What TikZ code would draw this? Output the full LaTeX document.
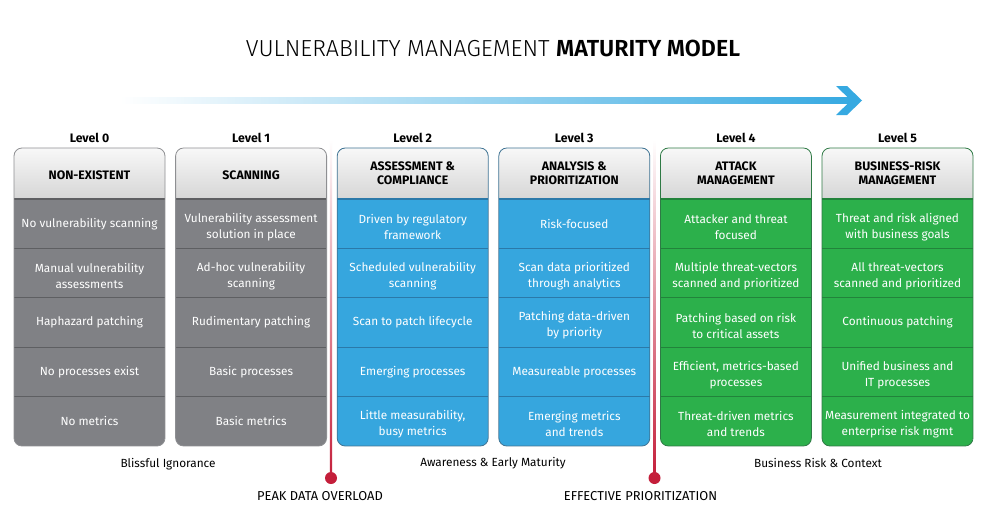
\documentclass[tikz,border=0pt]{standalone}
\usepackage{fontspec}
\setmainfont{Fira Sans}
\newfontfamily\lightfont{Fira Sans Light}
\usetikzlibrary{positioning}

\definecolor{cellgray}{HTML}{808185}
\definecolor{linegray}{HTML}{5E5F62}
\definecolor{bordgray}{HTML}{8E8F92}
\definecolor{cellblue}{HTML}{36A6DE}
\definecolor{lineblue}{HTML}{2B79A9}
\definecolor{bordblue}{HTML}{3F7393}
\definecolor{cellgreen}{HTML}{2CB04B}
\definecolor{linegreen}{HTML}{22833B}
\definecolor{bordgreen}{HTML}{2F7A45}
\definecolor{headtop}{HTML}{F8F8F8}
\definecolor{headbot}{HTML}{D6D6D6}
\definecolor{arrowblue}{HTML}{36A9E1}
\definecolor{markred}{HTML}{C41E3A}

% one column: left x, fill, border, row lines
\newcommand\levelbox[4]{%
  \begin{scope}
    \clip[rounded corners=8pt] (#1,148) rectangle ++(151,298);
    \shade[top color=headtop, bottom color=headbot] (#1,148) rectangle ++(151,51);
    \fill[#2] (#1,199) rectangle ++(151,247);
    \foreach \y in {199,248.4,297.8,347.2,396.6}
      \draw[#4, line width=1.3pt] (#1,\y) -- ++(151,0);
  \end{scope}
  \draw[#3, line width=0.8pt, rounded corners=8pt] (#1,148) rectangle ++(151,298);
}

\begin{document}
\begin{tikzpicture}[x=1pt, y=-1pt,
  cell/.style={text=white, align=center, font=\fontsize{11.8}{16}\selectfont},
  cell2/.style={cell, yshift=-3pt},
  head/.style={align=center, font=\fontsize{12.3}{14}\selectfont\bfseries},
  lvl/.style={font=\fontsize{12.3}{14}\selectfont\bfseries},
  band/.style={font=\fontsize{11.8}{14}\selectfont},
  marktext/.style={font=\fontsize{12.9}{14}\selectfont},
  markdot/.style={circle, fill=markred, minimum size=12pt, inner sep=0pt}]
\useasboundingbox[fill=white] (0,0) rectangle (985,531);

% title and arrow
\node (title) at (493,48.5) {\fontsize{23.2}{26}\selectfont\lightfont VULNERABILITY MANAGEMENT \bfseries MATURITY MODEL};
\shade[left color=white, right color=arrowblue] (120,97) rectangle (852,103);
\fill[arrowblue] (836,86) -- (847,86) -- (862,100.5) -- (847,115) -- (836,115) -- (851,100.5) -- cycle;

% red markers (drawn under the boxes)
\node[markdot] (peak) at (331,478) {};
\node[markdot] (effective) at (654.5,478) {};
\shade[top color=white, bottom color=markred] (329.8,140) rectangle (332.2,478);
\shade[top color=white, bottom color=markred] (653.3,140) rectangle (655.7,478);
\node[marktext, below=4pt of peak, xshift=-11pt] (peaktext) {PEAK DATA OVERLOAD};
\node[marktext, below=4pt of effective, xshift=-14pt] (efftext) {EFFECTIVE PRIORITIZATION};

% boxes
\levelbox{14}{cellgray}{bordgray}{linegray}
\levelbox{175.6}{cellgray}{bordgray}{linegray}
\levelbox{337.2}{cellblue}{bordblue}{lineblue}
\levelbox{498.8}{cellblue}{bordblue}{lineblue}
\levelbox{660.4}{cellgreen}{bordgreen}{linegreen}
\levelbox{822}{cellgreen}{bordgreen}{linegreen}

% level 0
\node[lvl] (lvl0) at (89.5,138) {Level 0};
\node[head] (head0) at (89.5,175.5) {NON-EXISTENT};
\node[cell] (c0a) at (89.5,223.7) {No vulnerability scanning};
\node[cell2] (c0b) at (89.5,273.1) {Manual vulnerability\\assessments};
\node[cell] (c0c) at (89.5,322.5) {Haphazard patching};
\node[cell] (c0d) at (89.5,371.9) {No processes exist};
\node[cell] (c0e) at (89.5,421.3) {No metrics};

% level 1
\node[lvl] (lvl1) at (251.1,138) {Level 1};
\node[head] (head1) at (251.1,175.5) {SCANNING};
\node[cell2] (c1a) at (251.1,223.7) {Vulnerability assessment\\solution in place};
\node[cell2] (c1b) at (251.1,273.1) {Ad-hoc vulnerability\\scanning};
\node[cell] (c1c) at (251.1,322.5) {Rudimentary patching};
\node[cell] (c1d) at (251.1,371.9) {Basic processes};
\node[cell] (c1e) at (251.1,421.3) {Basic metrics};

% level 2
\node[lvl] (lvl2) at (412.7,138) {Level 2};
\node[head] (head2) at (412.7,173) {ASSESSMENT \&\\COMPLIANCE};
\node[cell2] (c2a) at (412.7,223.7) {Driven by regulatory\\framework};
\node[cell2] (c2b) at (412.7,273.1) {Scheduled vulnerability\\scanning};
\node[cell] (c2c) at (412.7,322.5) {Scan to patch lifecycle};
\node[cell] (c2d) at (412.7,371.9) {Emerging processes};
\node[cell2] (c2e) at (412.7,421.3) {Little measurability,\\busy metrics};

% level 3
\node[lvl] (lvl3) at (574.3,138) {Level 3};
\node[head] (head3) at (574.3,173) {ANALYSIS \&\\PRIORITIZATION};
\node[cell] (c3a) at (574.3,223.7) {Risk-focused};
\node[cell2] (c3b) at (574.3,273.1) {Scan data prioritized\\through analytics};
\node[cell2] (c3c) at (574.3,322.5) {Patching data-driven\\by priority};
\node[cell] (c3d) at (574.3,371.9) {Measureable processes};
\node[cell2] (c3e) at (574.3,421.3) {Emerging metrics\\and trends};

% level 4
\node[lvl] (lvl4) at (735.9,138) {Level 4};
\node[head] (head4) at (735.9,173) {ATTACK\\MANAGEMENT};
\node[cell2] (c4a) at (735.9,223.7) {Attacker and threat\\focused};
\node[cell2] (c4b) at (735.9,273.1) {Multiple threat-vectors\\scanned and prioritized};
\node[cell2] (c4c) at (735.9,322.5) {Patching based on risk\\to critical assets};
\node[cell2] (c4d) at (735.9,371.9) {Efficient, metrics-based\\processes};
\node[cell2] (c4e) at (735.9,421.3) {Threat-driven metrics\\and trends};

% level 5
\node[lvl] (lvl5) at (897.5,138) {Level 5};
\node[head] (head5) at (897.5,173) {BUSINESS-RISK\\MANAGEMENT};
\node[cell2] (c5a) at (897.5,223.7) {Threat and risk aligned\\with business goals};
\node[cell2] (c5b) at (897.5,273.1) {All threat-vectors\\scanned and prioritized};
\node[cell] (c5c) at (897.5,322.5) {Continuous patching};
\node[cell2] (c5d) at (897.5,371.9) {Unified business and\\IT processes};
\node[cell2] (c5e) at (897.5,421.3) {Measurement integrated to\\enterprise risk mgmt};

% stages
\node[band] (blissful) at (168,464) {Blissful Ignorance};
\node[band] (awareness) at (493,463) {Awareness \& Early Maturity};
\node[band] (business) at (818,463) {Business Risk \& Context};
\end{tikzpicture}
\end{document}
